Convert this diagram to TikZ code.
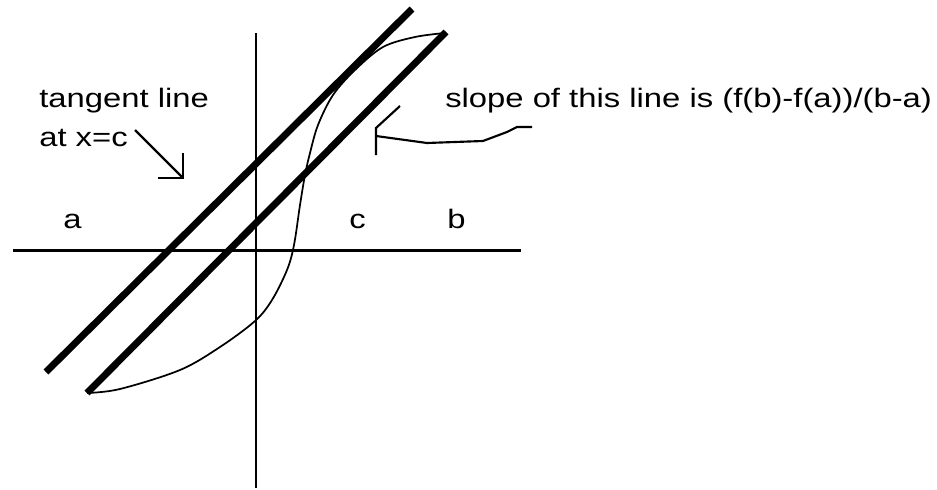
\documentclass[tikz,border=0pt]{standalone}
\usepackage{fontspec}
\setmainfont{Liberation Sans}
\begin{document}
\begin{tikzpicture}[x=0.75pt,y=-0.75pt,
  axis/.style={line width=1.6pt},
  thickline/.style={line width=5.2pt},
  curve/.style={line width=1.3pt},
  pointer/.style={line width=1.6pt},
  lbl/.style={anchor=base west,inner sep=0pt,font=\fontsize{20pt}{22pt}\selectfont}]
\useasboundingbox (0,0) rectangle (937,489);
% axes
\coordinate (vt) at (256,33);
\coordinate (vb) at (256,488);
\coordinate (hl) at (13,250.5);
\coordinate (hr) at (521,250.5);
\draw[axis] (vt) -- (vb);
\draw[axis] (hl) -- (hr);
% curve
\draw[curve] plot[smooth,tension=0.55] coordinates {(87,393) (120,389) (180,370) (220,347) (255,321) (272,300) (287,270) (294,245) (300,205) (305,175) (310,153) (318,125) (333,95) (355,70) (383,47) (415,37) (445,33)};
% lines
\coordinate (tA) at (46,372);
\coordinate (tB) at (412,9);
\coordinate (sA) at (87,393);
\coordinate (sB) at (446,32);
\draw[thickline] (tA) -- (tB);
\draw[thickline] (sA) -- (sB);
% labels
\node[lbl] (t1) at (39,107) {\scalebox{1.23}[1]{tangent line}};
\node[lbl] (t2) at (39,146) {\scalebox{1.23}[1]{at x=c}};
\node[lbl] (t3) at (445,107) {\scalebox{1.23}[1]{slope of this line is (f(b)-f(a))/(b-a)}};
\node[lbl] (la) at (63,228) {\scalebox{1.23}[1]{a}};
\node[lbl] (lc) at (349,228) {\scalebox{1.23}[1]{c}};
\node[lbl] (lb) at (447,228) {\scalebox{1.23}[1]{b}};
% tangent pointer
\coordinate (p1) at (135,130);
\coordinate (p2) at (183,178);
\coordinate (p2a) at (183,153);
\coordinate (p2b) at (158,178);
\draw[pointer] (p1) -- (p2);
\draw[pointer] (p2a) -- (p2) -- (p2b);
% secant pointer
\coordinate (q0) at (376,128);
\coordinate (q1) at (376,155);
\coordinate (q2) at (400,106);
\draw[pointer] (q1) -- (q0) -- (q2);
\draw[pointer] (376,136) -- (427,143) -- (483,141) -- (507,132) -- (517,127) -- (532,127);
\end{tikzpicture}
\end{document}
